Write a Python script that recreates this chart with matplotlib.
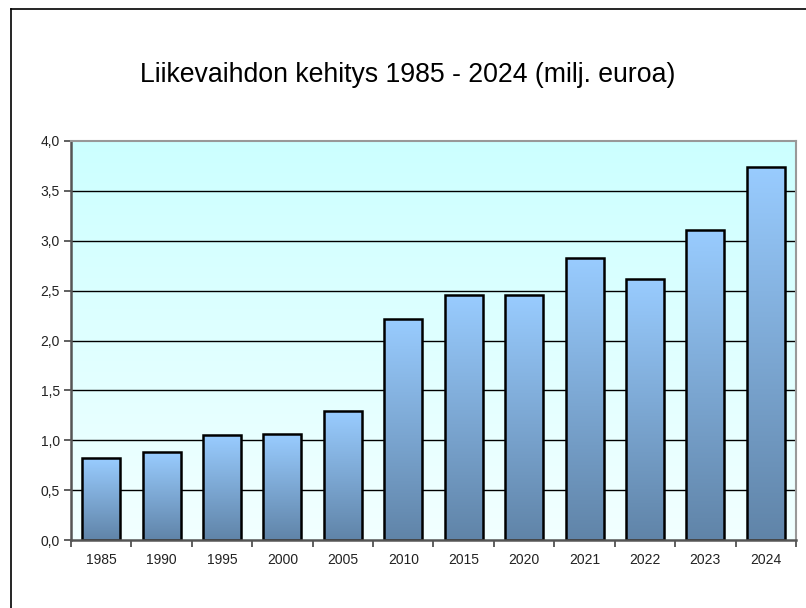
import matplotlib
matplotlib.use("Agg")
import matplotlib.pyplot as plt
import numpy as np
from matplotlib.lines import Line2D
from matplotlib.colors import LinearSegmentedColormap

years = ["1985", "1990", "1995", "2000", "2005", "2010", "2015", "2020",
         "2021", "2022", "2023", "2024"]
values = [0.82, 0.88, 1.05, 1.06, 1.29, 2.22, 2.46, 2.46, 2.83, 2.62, 3.11, 3.74]
yticks = [0.0, 0.5, 1.0, 1.5, 2.0, 2.5, 3.0, 3.5, 4.0]
title = "Liikevaihdon kehitys 1985 - 2024 (milj. euroa)"

plt.rcParams['font.family'] = ['Liberation Sans', 'DejaVu Sans']

fig = plt.figure(figsize=(8.06, 6.08), dpi=100)
ax = fig.add_axes([71/806, 1-540/608, (796-71)/806, (540-141)/608])

x = np.arange(len(years))
ax.set_xlim(-0.5, len(years) - 0.5)
ax.set_ylim(0, 4.0)

# background gradient
bg_cmap = LinearSegmentedColormap.from_list("bg", ["#F2FFFF", "#CCFFFF"])
grad = np.linspace(0, 1, 256).reshape(-1, 1)
ax.imshow(grad, cmap=bg_cmap, aspect='auto', origin='lower',
          extent=[-0.5, len(years) - 0.5, 0, 4.0], zorder=0)

# gridlines
for yv in yticks[1:-1]:
    ax.axhline(yv, color='black', lw=1.0, zorder=1)

bar_cmap = LinearSegmentedColormap.from_list("bar", ["#6084A8", "#99CCFF"])
bars = ax.bar(x, values, width=0.63, facecolor='none', edgecolor='black',
              linewidth=1.8, zorder=3)
for b in bars:
    x0, y0 = b.get_x(), b.get_y()
    w, h = b.get_width(), b.get_height()
    im = ax.imshow(grad, cmap=bar_cmap, aspect='auto', origin='lower',
                   extent=[x0, x0 + w, y0, y0 + h], zorder=2)
    im.set_clip_path(b)

ax.set_xlim(-0.5, len(years) - 0.5)
ax.set_ylim(0, 4.0)

ax.set_yticks(yticks)
ax.set_yticklabels([f"{v:.1f}".replace('.', ',') for v in yticks], fontsize=10, color='#222222')
ax.set_xticks(x)
ax.set_xticklabels(years, fontsize=10, color='#222222')
ax.tick_params(axis='x', length=0, pad=9)
ax.set_xticks(np.arange(-0.5, len(years)), minor=True)
ax.tick_params(axis='x', which='minor', length=5, width=1.2, color='#444444', direction='out')
ax.tick_params(axis='y', length=5, width=1.2, color='#444444', direction='out', pad=3)

for s in ['left', 'bottom']:
    ax.spines[s].set_color('#555555')
    ax.spines[s].set_linewidth(1.8)
for s in ['top', 'right']:
    ax.spines[s].set_color('#999999')
    ax.spines[s].set_linewidth(1.5)
ax.spines['bottom'].set_zorder(4)

fig.text(408/806, 1 - 75/608, title, ha='center', va='center', fontsize=19.2, color='black')

# figure border lines
fig.add_artist(Line2D([11/806, 11/806], [0, 1 - 9/608], transform=fig.transFigure, color='black', lw=1.2))
fig.add_artist(Line2D([11/806, 1], [1 - 9/608, 1 - 9/608], transform=fig.transFigure, color='black', lw=1.2))

fig.savefig("out.png", dpi=100)
